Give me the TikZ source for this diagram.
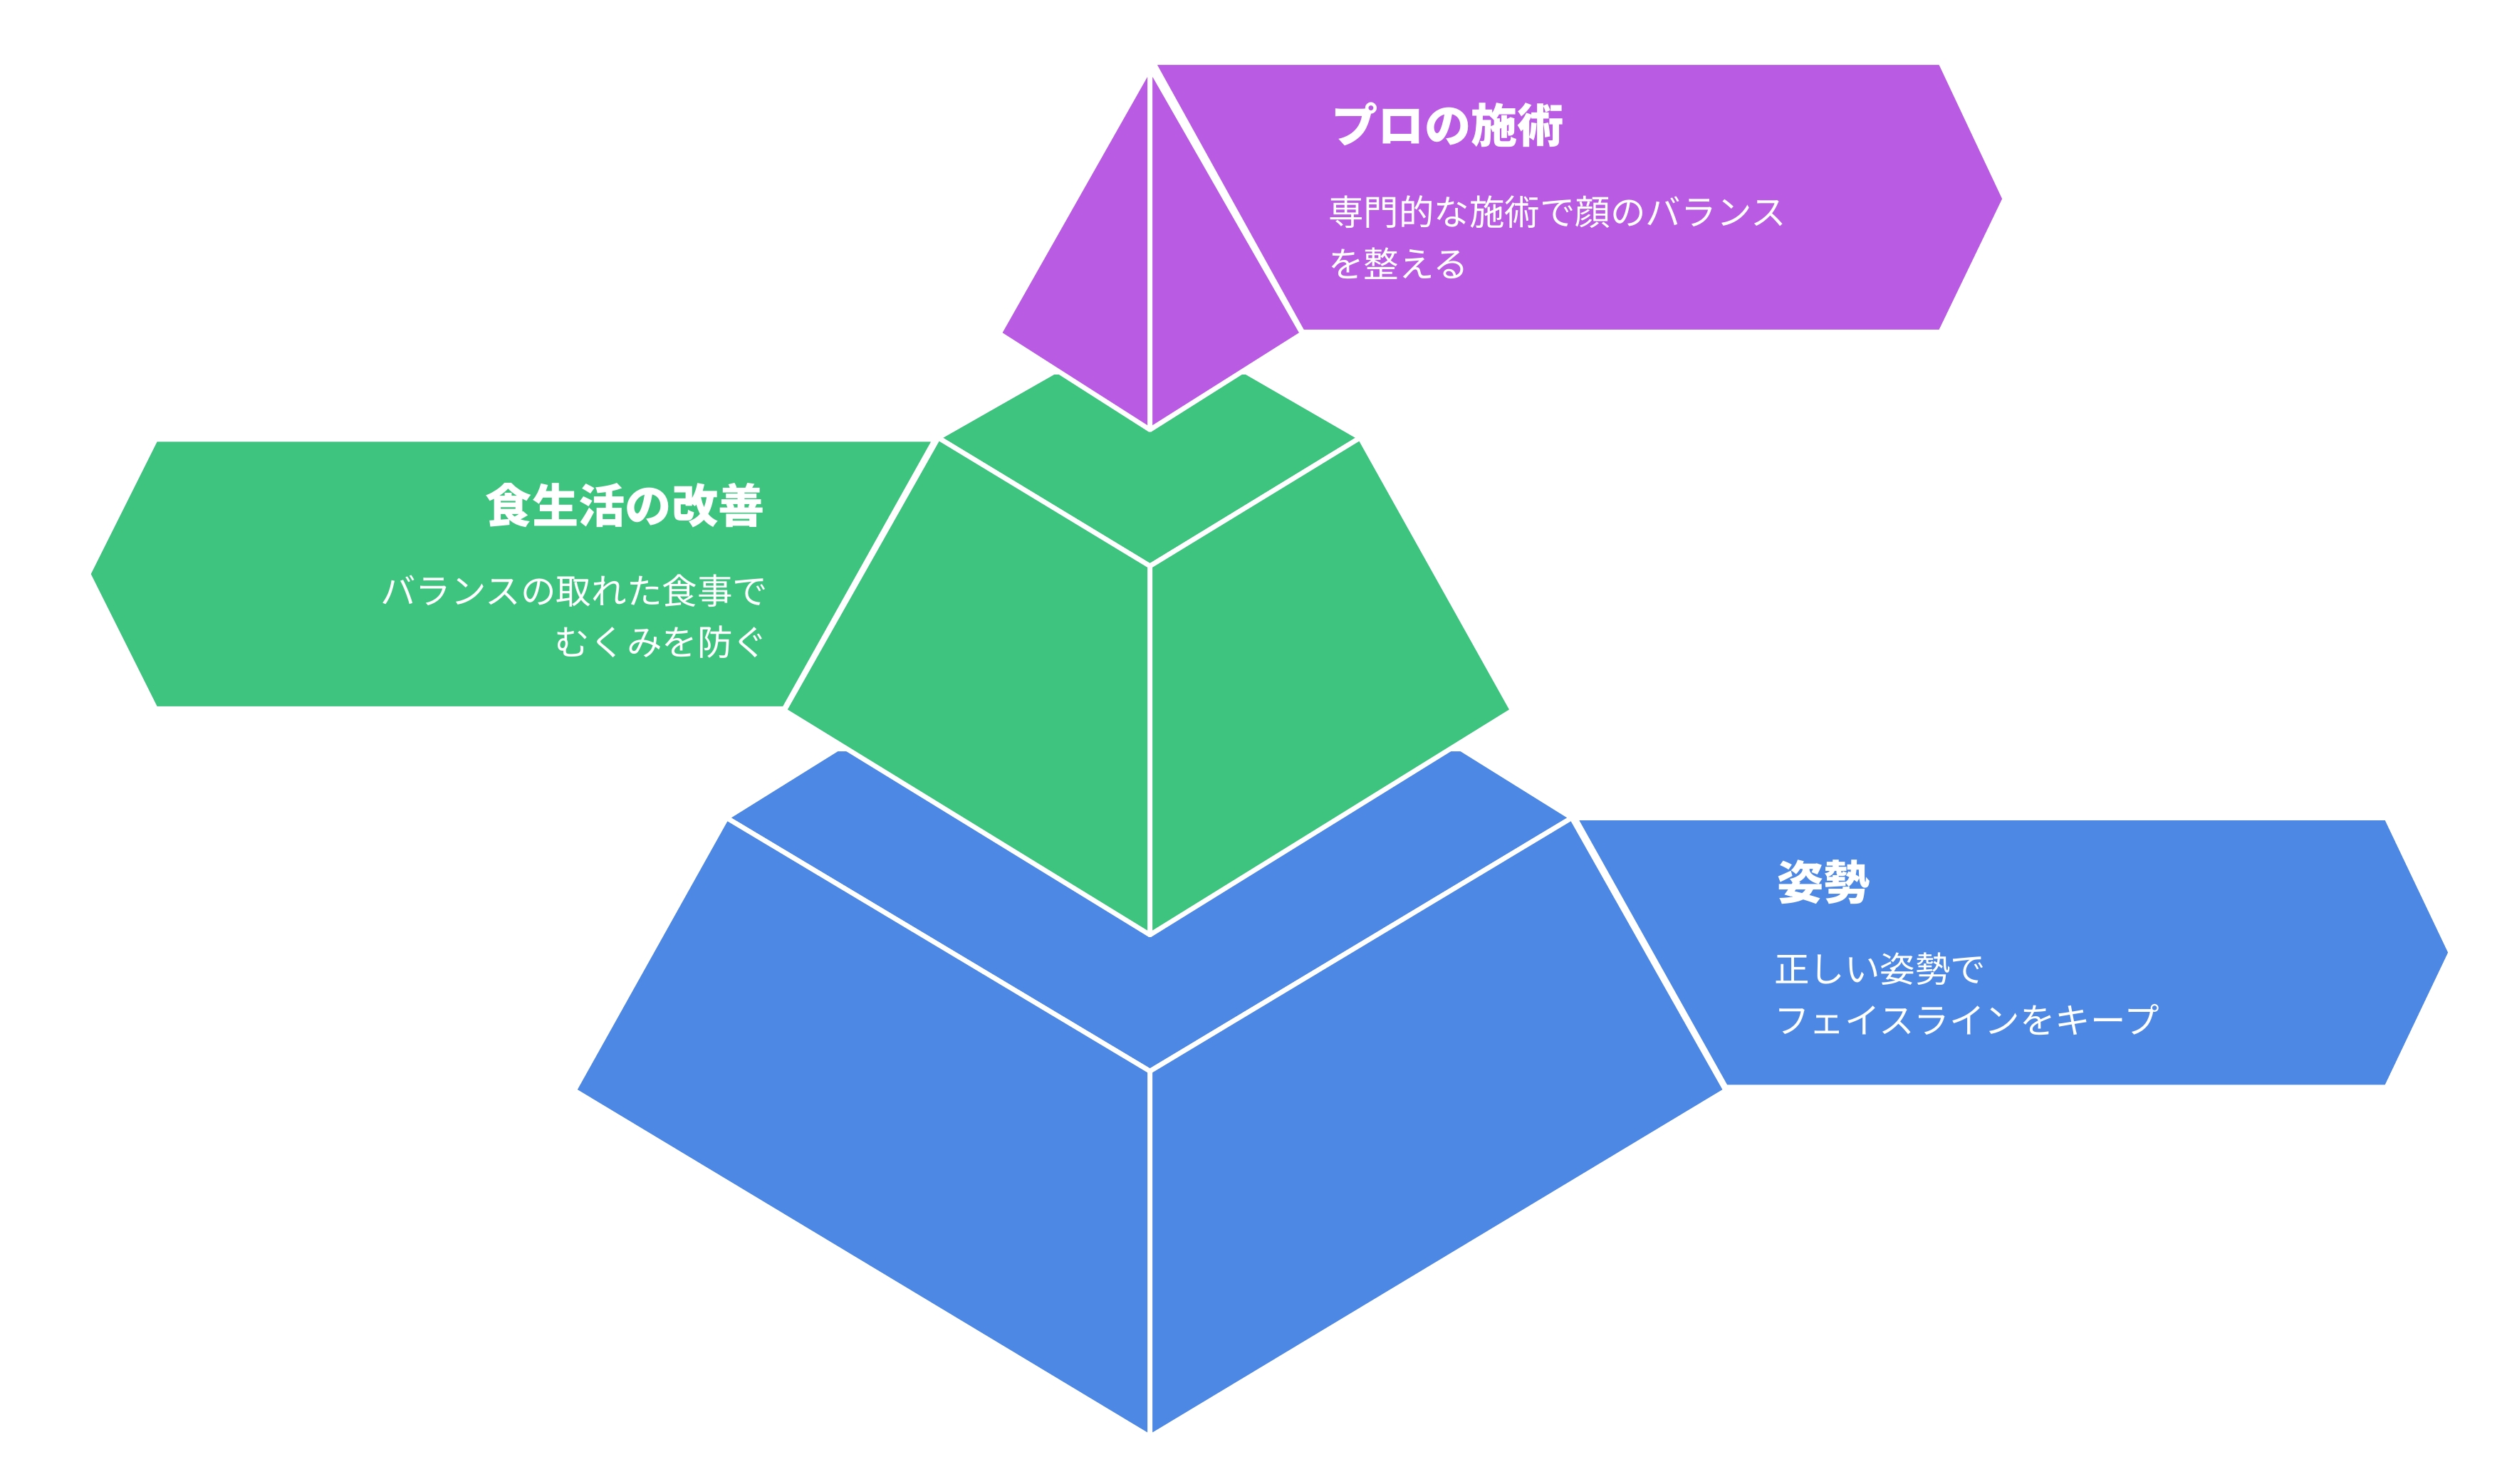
\documentclass[tikz,border=0pt]{standalone}
\usepackage{fontspec}
\setmainfont{Noto Sans CJK JP}
\newfontfamily\jpbold{Noto Sans CJK JP Bold}
\definecolor{pur}{HTML}{B95CE3}
\definecolor{grn}{HTML}{3EC47F}
\definecolor{blu}{HTML}{4E88E5}
\begin{document}
\begin{tikzpicture}[x=1pt,y=-1pt,
  face/.style={draw=white,line width=3pt,line join=round},
  ttl/.style={text=white,font=\fontsize{29}{34}\selectfont\bfseries,inner sep=0pt},
  bdy/.style={text=white,font=\fontsize{22}{32}\selectfont,inner sep=0pt,align=left}]
\useasboundingbox (0,0) rectangle (1560,925.4);
% blue tier
\fill[face,fill=blu] (453,510)--(522,467)--(911,467)--(980,510)--(717,668)--cycle;
\fill[face,fill=blu] (453,510)--(358,680)--(717,896)--(717,668)--cycle;
\fill[face,fill=blu] (717,668)--(717,896)--(1076,680)--(980,510)--cycle;
\fill[face,fill=blu] (982,510)--(1488,510)--(1528,594)--(1488,678)--(1076,678)--cycle;
% green tier
\fill[face,fill=grn] (585,273)--(657,232)--(777,232)--(848,273)--(717,353)--cycle;
\fill[face,fill=grn] (585,273)--(489,443)--(717,583)--(717,353)--cycle;
\fill[face,fill=grn] (717,353)--(717,583)--(943,443)--(848,273)--cycle;
\fill[face,fill=grn] (583,274)--(97,274)--(55,358)--(97,442)--(489,442)--cycle;
% purple
\fill[face,fill=pur] (717,42)--(623,208)--(717,268)--cycle;
\fill[face,fill=pur] (717,42)--(717,268)--(812,208)--cycle;
\fill[face,fill=pur] (719,39)--(1210,39)--(1250,124)--(1210,207)--(812,207)--cycle;
% texts
\node[ttl,anchor=west] (t1) at (830,78) {プロの施術};
\node[bdy,anchor=north west] (b1) at (828,122) {専門的な施術で顔のバランス\\を整える};
\node[ttl,anchor=east] (t2) at (477,315) {食生活の改善};
\node[bdy,anchor=north east,align=right] (b2) at (479,358) {バランスの取れた食事で\\むくみを防ぐ};
\node[ttl,anchor=west] (t3) at (1108,550) {姿勢};
\node[bdy,anchor=north west] (b3) at (1106,594) {正しい姿勢で\\フェイスラインをキープ};
\end{tikzpicture}
\end{document}
